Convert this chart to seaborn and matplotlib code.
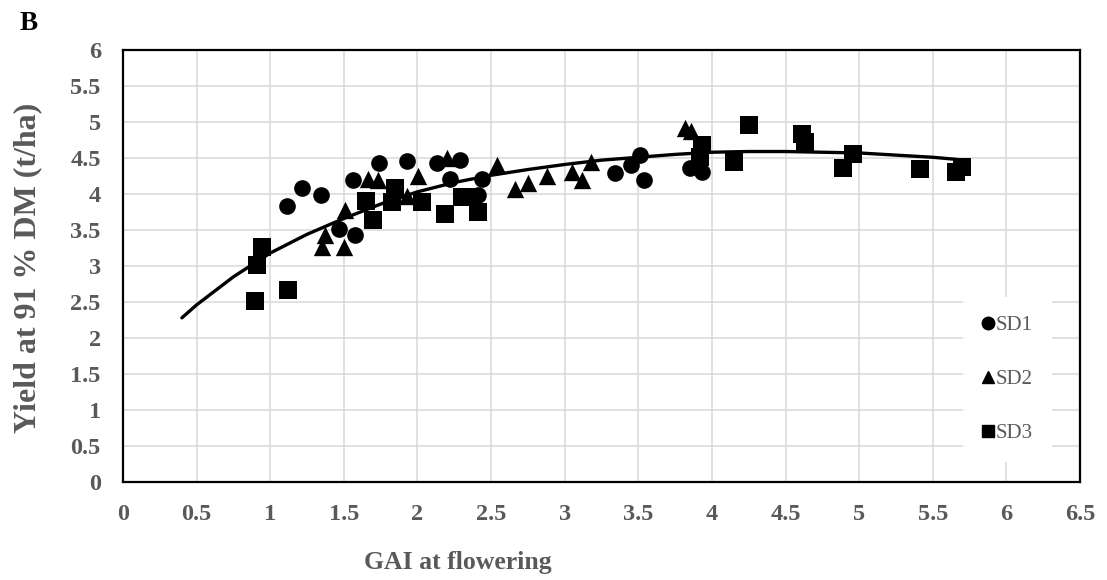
import matplotlib
matplotlib.use("Agg")
import matplotlib.pyplot as plt
from matplotlib.lines import Line2D
import seaborn as sns
import pandas as pd
import numpy as np

# ---- data ----
sd1_x = [1.116, 1.218, 1.343, 1.47, 1.565, 1.576, 1.74, 1.927, 2.13, 2.22, 2.29,
         2.41, 2.44, 3.34, 3.45, 3.51, 3.54, 3.85, 3.93]
sd1_y = [3.84, 4.09, 3.99, 3.51, 4.19, 3.43, 4.43, 4.46, 4.43, 4.21, 4.47,
         3.99, 4.21, 4.29, 4.40, 4.54, 4.20, 4.36, 4.31]

sd2_x = [1.35, 1.375, 1.50, 1.51, 1.667, 1.735, 1.93, 2.006, 2.20, 2.54, 2.66,
         2.75, 2.88, 3.05, 3.12, 3.18, 3.82, 3.86]
sd2_y = [3.27, 3.43, 3.27, 3.78, 4.21, 4.19, 3.97, 4.25, 4.50, 4.40, 4.07,
         4.15, 4.25, 4.31, 4.20, 4.45, 4.91, 4.88]

sd3_x = [0.897, 0.91, 0.946, 1.119, 1.65, 1.70, 1.825, 1.85, 2.03, 2.19, 2.30,
         2.36, 2.41, 3.92, 3.93, 4.15, 4.25, 4.61, 4.63, 4.89, 4.96, 5.41, 5.66, 5.70]
sd3_y = [2.51, 3.01, 3.27, 2.67, 3.90, 3.64, 3.89, 4.09, 3.89, 3.72, 3.96,
         3.96, 3.75, 4.52, 4.68, 4.45, 4.96, 4.84, 4.72, 4.36, 4.56, 4.35, 4.31, 4.38]

curve_x = [0.40, 0.50, 0.75, 1.00, 1.25, 1.50, 1.75, 2.00, 2.25, 2.50, 2.75, 3.00,
           3.25, 3.50, 3.75, 4.00, 4.25, 4.50, 4.75, 5.00, 5.25, 5.50, 5.72]
curve_y = [2.28, 2.46, 2.85, 3.18, 3.44, 3.66, 3.86, 4.03, 4.16, 4.26, 4.34, 4.41,
           4.47, 4.51, 4.55, 4.58, 4.59, 4.59, 4.58, 4.57, 4.54, 4.51, 4.47]

series_names = ["SD1", "SD2", "SD3"]
x_ticks = [0, 0.5, 1, 1.5, 2, 2.5, 3, 3.5, 4, 4.5, 5, 5.5, 6, 6.5]
y_ticks = [0, 0.5, 1, 1.5, 2, 2.5, 3, 3.5, 4, 4.5, 5, 5.5, 6]
x_label = "GAI at flowering"
y_label = "Yield at 91 % DM (t/ha)"
panel_label = "B"

# ---- build table ----
df = pd.concat([
    pd.DataFrame({"GAI": sd1_x, "Yield": sd1_y, "Sowing": "SD1"}),
    pd.DataFrame({"GAI": sd2_x, "Yield": sd2_y, "Sowing": "SD2"}),
    pd.DataFrame({"GAI": sd3_x, "Yield": sd3_y, "Sowing": "SD3"}),
], ignore_index=True)

sns.set_style("white")
plt.rcParams["font.family"] = ["Liberation Serif", "DejaVu Serif"]

W, H = 1107, 580
fig = plt.figure(figsize=(W / 100, H / 100), dpi=100)
ax = fig.add_axes([123 / W, 1 - 482 / H, (1080 - 123) / W, (482 - 50) / H])

gray = "#595959"
grid_c = "#d9d9d9"

ax.set_xlim(0, 6.5)
ax.set_ylim(0, 6)
ax.set_xticks(x_ticks)
ax.set_yticks(y_ticks)
ax.set_xticklabels([f"{v:g}" for v in x_ticks])
ax.set_yticklabels([f"{v:g}" for v in y_ticks])
ax.grid(True, color=grid_c, linewidth=1.1, zorder=0)
ax.set_axisbelow(True)

markers = {"SD1": "o", "SD2": "^", "SD3": "s"}
sizes_pt = {"SD1": 12, "SD2": 12.5, "SD3": 12.5}
for name in series_names:
    sub = df[df["Sowing"] == name]
    sns.scatterplot(data=sub, x="GAI", y="Yield", marker=markers[name],
                    s=sizes_pt[name] ** 2, color="black", edgecolor="black",
                    linewidth=0, ax=ax, zorder=3, legend=False)

sns.lineplot(x=curve_x, y=curve_y, color="black", linewidth=2.4, sort=False,
             ax=ax, zorder=4, legend=False)

for sp in ax.spines.values():
    sp.set_visible(True)
    sp.set_color("black")
    sp.set_linewidth(1.6)

ax.tick_params(axis="x", direction="in", length=6, width=1.5, color="black",
               pad=16, labelsize=17.5, labelcolor=gray)
ax.tick_params(axis="y", direction="in", length=6, width=1.5, color="black",
               pad=16, labelsize=17.5, labelcolor=gray)
for lab in ax.get_xticklabels() + ax.get_yticklabels():
    lab.set_fontweight("bold")

ax.set_xlabel("")
ax.set_ylabel("")
fig.text(458 / W, 1 - 563 / H, x_label, ha="center", va="center",
         fontsize=18.5, fontweight="bold", color=gray)
fig.text(28 / W, 1 - 268 / H, y_label, ha="center", va="center", rotation=90,
         fontsize=23, fontweight="bold", color=gray)
fig.text(29 / W, 1 - 24 / H, panel_label, ha="center", va="center",
         fontsize=19.5, fontweight="bold", color="black")

handles = [Line2D([], [], linestyle="none", marker=markers[n], color="black",
                  markersize=9) for n in series_names]
leg = ax.legend(handles, series_names, loc="center", bbox_to_anchor=(0.924, 0.238),
                frameon=True, facecolor="white", edgecolor="none", framealpha=1,
                fontsize=15, labelcolor=gray, handlelength=0.6, handletextpad=0.1,
                labelspacing=1.65, borderpad=0.9, fancybox=False)
leg.set_zorder(5)

fig.savefig("out.png", dpi=100, facecolor="white")
